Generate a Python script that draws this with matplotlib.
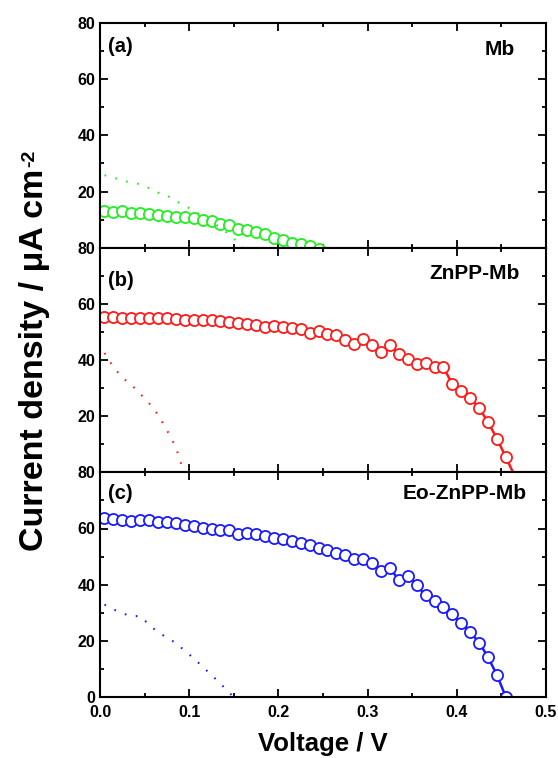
import matplotlib
matplotlib.use("Agg")
import matplotlib.pyplot as plt
from matplotlib.ticker import MultipleLocator, FixedLocator

plt.rcParams["font.family"] = ["Liberation Sans", "DejaVu Sans"]
plt.rcParams["font.weight"] = "bold"

# voltage grid of the measured points (V)
v_a = [0.005, 0.015, 0.025, 0.035, 0.045, 0.055, 0.065, 0.075, 0.085, 0.095,
       0.105, 0.115, 0.125, 0.135, 0.145, 0.155, 0.165, 0.175, 0.185, 0.195,
       0.205, 0.215, 0.225, 0.235, 0.245]
j_a = [13.1, 12.7, 13.0, 12.4, 12.4, 12.1, 11.8, 11.4, 10.9, 10.9,
       10.4, 9.8, 9.4, 8.6, 8.0, 6.8, 6.2, 5.7, 4.8, 3.6,
       2.6, 1.6, 1.2, 0.5, -0.5]
v_a_dark = [0.005, 0.015, 0.025, 0.035, 0.045, 0.055, 0.065, 0.075, 0.085,
            0.095, 0.105, 0.115, 0.125, 0.135, 0.145, 0.155, 0.165]
j_a_dark = [25.8, 25.0, 23.8, 23.3, 22.6, 21.2, 19.6, 18.6, 16.6,
            15.0, 13.1, 11.2, 9.2, 7.2, 4.6, 1.8, -2.0]

v_b = [0.005, 0.015, 0.025, 0.035, 0.045, 0.055, 0.065, 0.075, 0.085, 0.095,
       0.105, 0.115, 0.125, 0.135, 0.145, 0.155, 0.165, 0.175, 0.185, 0.195,
       0.205, 0.215, 0.225, 0.235, 0.245, 0.255, 0.265, 0.275, 0.285, 0.295,
       0.305, 0.315, 0.325, 0.335, 0.345, 0.355, 0.365, 0.375, 0.385, 0.395,
       0.405, 0.415, 0.425, 0.435, 0.445, 0.455, 0.463]
j_b = [55.3, 55.3, 55.0, 54.8, 55.0, 55.0, 55.0, 55.0, 54.6, 54.4,
       54.4, 54.2, 54.1, 53.8, 53.6, 53.0, 52.8, 52.5, 51.9, 52.1,
       51.8, 51.3, 50.9, 49.7, 50.4, 49.4, 49.0, 47.1, 45.6, 47.3,
       45.4, 43.0, 45.2, 42.3, 40.2, 38.5, 39.0, 37.4, 37.4, 31.4,
       29.1, 26.5, 22.9, 17.9, 12.0, 5.4, 0.0]
v_b_dark = [0.005, 0.015, 0.025, 0.035, 0.045, 0.055, 0.065, 0.075, 0.085, 0.094]
j_b_dark = [42.5, 37.5, 33.7, 31.2, 28.0, 24.6, 20.5, 15.0, 9.0, 0.0]

v_c = [0.005, 0.015, 0.025, 0.035, 0.045, 0.055, 0.065, 0.075, 0.085, 0.095,
       0.105, 0.115, 0.125, 0.135, 0.145, 0.155, 0.165, 0.175, 0.185, 0.195,
       0.205, 0.215, 0.225, 0.235, 0.245, 0.255, 0.265, 0.275, 0.285, 0.295,
       0.305, 0.315, 0.325, 0.335, 0.345, 0.355, 0.365, 0.375, 0.385, 0.395,
       0.405, 0.415, 0.425, 0.435, 0.445, 0.455]
j_c = [63.9, 63.5, 63.2, 62.7, 63.2, 63.0, 62.4, 62.3, 61.8, 61.3,
       60.8, 60.3, 59.8, 59.3, 59.5, 58.1, 58.5, 57.9, 57.2, 56.7,
       56.1, 55.4, 54.7, 54.0, 53.0, 52.3, 51.4, 50.7, 49.2, 49.0,
       47.6, 44.7, 45.9, 41.7, 43.1, 39.8, 36.2, 34.1, 32.2, 29.4,
       26.5, 23.2, 19.4, 14.2, 7.8, 0.0]
v_c_dark = [0.005, 0.015, 0.025, 0.035, 0.045, 0.055, 0.065, 0.075, 0.085,
            0.095, 0.105, 0.115, 0.125, 0.135, 0.145, 0.150]
j_c_dark = [32.9, 31.2, 29.8, 28.8, 28.8, 25.8, 23.0, 21.2, 19.2,
            16.5, 13.8, 10.8, 7.8, 4.8, 1.5, 0.0]

panels = [
    ("(a)", "Mb", "#22ee22", v_a, j_a, v_a_dark, j_a_dark),
    ("(b)", "ZnPP-Mb", "#ff1a1a", v_b, j_b, v_b_dark, j_b_dark),
    ("(c)", "Eo-ZnPP-Mb", "#1a1aff", v_c, j_c, v_c_dark, j_c_dark),
]
# label positions inside each panel (axes fraction)
tag_y = [0.895, 0.853, 0.906]
name_xy = [(0.930, 0.88), (0.942, 0.884), (0.957, 0.907)]

fig = plt.figure(figsize=(5.58, 7.58), dpi=100)
left, right = 100 / 558, 546 / 558
top, bottom = 1 - 23 / 758, 1 - 697 / 758
h = (top - bottom) / 3

for i, (tag, name, col, v, j, vd, jd) in enumerate(panels):
    ax = fig.add_axes([left, top - (i + 1) * h, right - left, h])
    n_mark = len(j) if tag != "(b)" else len(j) - 1
    ax.plot(v, j, color=col, lw=1.8, marker="o", markersize=8,
            markerfacecolor="white", markeredgewidth=1.3,
            markevery=list(range(n_mark)))
    ax.plot(vd, jd, color=col, lw=1.5, linestyle=(0, (0.8, 4.6)))
    ax.set_xlim(0, 0.5)
    ax.set_ylim(0, 80)
    ax.xaxis.set_major_locator(MultipleLocator(0.1))
    ax.xaxis.set_minor_locator(MultipleLocator(0.05))
    if i < 2:
        ax.yaxis.set_major_locator(FixedLocator([20, 40, 60, 80]))
        ax.tick_params(axis="x", labelbottom=False)
    else:
        ax.yaxis.set_major_locator(MultipleLocator(20))
    ax.yaxis.set_minor_locator(MultipleLocator(10))
    ax.tick_params(which="both", direction="in", top=True, right=True,
                   width=1.3, labelsize=11.5)
    ax.tick_params(which="major", length=5.5)
    ax.tick_params(which="minor", length=3)
    ax.tick_params(axis="x", pad=6)
    for s in ax.spines.values():
        s.set_linewidth(1.5)
    for lbl in ax.get_xticklabels() + ax.get_yticklabels():
        lbl.set_fontweight("bold")
    ax.text(0.018, tag_y[i], tag, transform=ax.transAxes, fontsize=14.5,
            fontweight="bold", ha="left", va="center")
    ax.text(name_xy[i][0], name_xy[i][1], name, transform=ax.transAxes,
            fontsize=15, fontweight="bold", ha="right", va="center")
    if i == 2:
        ax.xaxis.set_major_formatter(plt.FuncFormatter(lambda x, p: f"{x:.1f}"))

# y label, with the "-2" drawn as a small raised hyphen text
ylab = fig.text(0.061, 0.525, "Current density / \u03bcA cm",
                rotation=90, ha="center", va="center", fontsize=24.5,
                fontweight="bold")
fig.canvas.draw()
bb = ylab.get_window_extent().transformed(fig.transFigure.inverted())
fig.text(bb.x0 + 0.005, bb.y1 + 0.002, "-2", rotation=90, ha="left",
         va="bottom", fontsize=14, fontweight="bold")
fig.text((left + right) / 2, 0.019, "Voltage / V", ha="center", va="center",
         fontsize=18.5, fontweight="bold")

fig.savefig("out.png", dpi=100)
